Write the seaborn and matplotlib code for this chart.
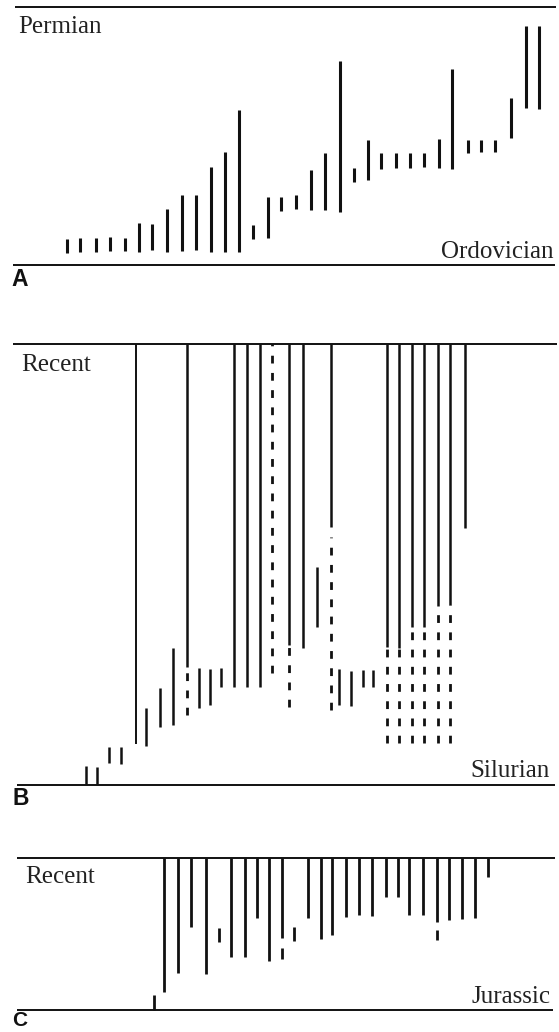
import numpy as np
import matplotlib
matplotlib.use("Agg")
import matplotlib.pyplot as plt
import seaborn as sns

# Range charts of taxa through time (levels measured upward from the older boundary)

# ---- Panel A: Ordovician -> Permian
a_x = [67, 80, 96, 110, 125, 139, 152, 167, 182, 196, 211, 225, 239, 253, 268, 281, 296,
       311, 325, 340, 354, 368, 381, 396, 410, 424, 439, 452, 468, 481, 495, 511, 526, 539]
a_lo = [12, 13, 13, 14, 14, 13, 15, 13, 14, 15, 13, 13, 13, 26, 27, 54, 56,
        55, 55, 53, 83, 85, 96, 97, 97, 98, 97, 96, 112, 113, 113, 127, 157, 156]
a_hi = [26, 27, 27, 28, 27, 42, 41, 56, 70, 70, 98, 113, 155, 40, 68, 68, 70,
        95, 112, 204, 97, 125, 112, 112, 112, 112, 126, 196, 125, 125, 125, 167, 239, 239]
a_top = 258

# ---- Panel B: Silurian -> Recent
nan = np.nan
b_x = [86, 97, 109, 121, 136, 146, 160, 173, 187, 199, 210, 221, 234, 247, 260, 272,
       289, 303, 317, 331, 339, 351, 363, 373, 387, 399, 412, 424, 438, 450, 465]
b_lo = [1, 1, 22, 21, 41, 39, 58, 60, 118, 77, 80, 98, 98, 98, 98, nan,
        140, 137, 158, 258, 80, 79, 98, 98, 138, 137, 158, 158, 179, 180, 257]
b_hi = [19, 18, 38, 38, 441, 77, 97, 137, 441, 117, 116, 117, 441, 441, 441, nan,
        441, 441, 218, 441, 116, 114, 115, 115, 441, 441, 441, 441, 441, 441, 441]
b_dash_lo = [nan, nan, nan, nan, nan, nan, nan, nan, 70, nan, nan, nan, nan, nan, nan, 112,
             78, nan, nan, 75, nan, nan, nan, nan, 42, 42, 42, 42, 42, 42, nan]
b_dash_hi = [nan, nan, nan, nan, nan, nan, nan, nan, 118, nan, nan, nan, nan, nan, nan, 441,
             140, nan, nan, 248, nan, nan, nan, nan, 138, 137, 158, 158, 179, 180, nan]
b_top = 441

# ---- Panel C: Jurassic -> Recent
c_x = [154, 164, 178, 191, 206, 219, 231, 245, 257, 269, 282, 294, 308, 321,
       332, 346, 359, 372, 386, 398, 409, 423, 437, 449, 462, 475, 488]
c_lo = [0, 18, 37, 83, 36, 68, 53, 53, 92, 49, 72, 69, 92, 71,
        75, 93, 95, 94, 113, 113, 95, 95, 88, 90, 91, 92, 133]
c_hi = [15, 152, 152, 152, 152, 82, 152, 152, 152, 152, 152, 83, 152, 152,
        152, 152, 152, 152, 152, 152, 152, 152, 152, 152, 152, 152, 152]
c_extra_x = [282, 437]
c_extra_lo = [51, 70]
c_extra_hi = [62, 80]
c_top = 152

sns.set_theme(style="white")
plt.rcParams['font.family'] = ['Liberation Serif', 'DejaVu Serif']

W, H = 559, 1032
fig = plt.figure(figsize=(W / 100, H / 100), dpi=100)


def panel(rows, base):
    r0, r1 = rows
    ax = fig.add_axes([0, 1 - r1 / H, 1, (r1 - r0) / H])
    ax.set_xlim(0, W)
    ax.set_ylim(base - r1, base - r0)
    ax.axis("off")
    return ax


ink = "#111111"
lw_frame = 1.4
txt = dict(fontsize=18, color="#222222")
let = dict(fontsize=16.5, family="Liberation Sans", weight="bold", color=ink,
           va="top", ha="left")
dash = [(0, (2.8, 3.4))]

# A
ax = panel((0, 300), 265)
ax.hlines([0], 13, 555, color=ink, lw=lw_frame)
ax.hlines([a_top], 15, 556, color=ink, lw=lw_frame)
ax.vlines(a_x, a_lo, a_hi, color=ink, lw=2.2, capstyle="butt")
ax.text(18, 232, "Permian", ha="left", va="baseline", **txt)
ax.text(553, 7, "Ordovician", ha="right", va="baseline", **txt)
ax.text(11, -3, "A", **let)

# B
ax = panel((300, 820), 785)
ax.hlines([0], 17, 555, color=ink, lw=lw_frame)
ax.hlines([b_top], 13, 557, color=ink, lw=lw_frame)
bx = np.array(b_x, float)
blo, bhi = np.array(b_lo), np.array(b_hi)
m = ~np.isnan(blo)
widths = np.where(bx[m] == 136, 1.4, 1.8)
ax.vlines(bx[m], blo[m], bhi[m], color=ink, lw=widths, capstyle="butt")
dlo, dhi = np.array(b_dash_lo), np.array(b_dash_hi)
m = ~np.isnan(dlo)
ax.vlines(bx[m], dlo[m], dhi[m], color=ink, lw=2.0, linestyles=dash, capstyle="butt")
ax.text(21, 414, "Recent", ha="left", va="baseline", **txt)
ax.text(550, 8, "Silurian", ha="right", va="baseline", **txt)
ax.text(12, -2, "B", **let)

# C
ax = panel((820, 1032), 1010)
ax.hlines([0], 17, 553, color=ink, lw=lw_frame)
ax.hlines([c_top], 17, 555, color=ink, lw=lw_frame)
ax.vlines(c_x, c_lo, c_hi, color=ink, lw=2.0, capstyle="butt")
ax.vlines(c_extra_x, c_extra_lo, c_extra_hi, color=ink, lw=2.0, capstyle="butt")
ax.text(25, 127, "Recent", ha="left", va="baseline", **txt)
ax.text(550, 7, "Jurassic", ha="right", va="baseline", **txt)
ax.text(12, -1.5, "C", **dict(let, fontsize=15))

fig.savefig("out.png", dpi=100, facecolor="white")
